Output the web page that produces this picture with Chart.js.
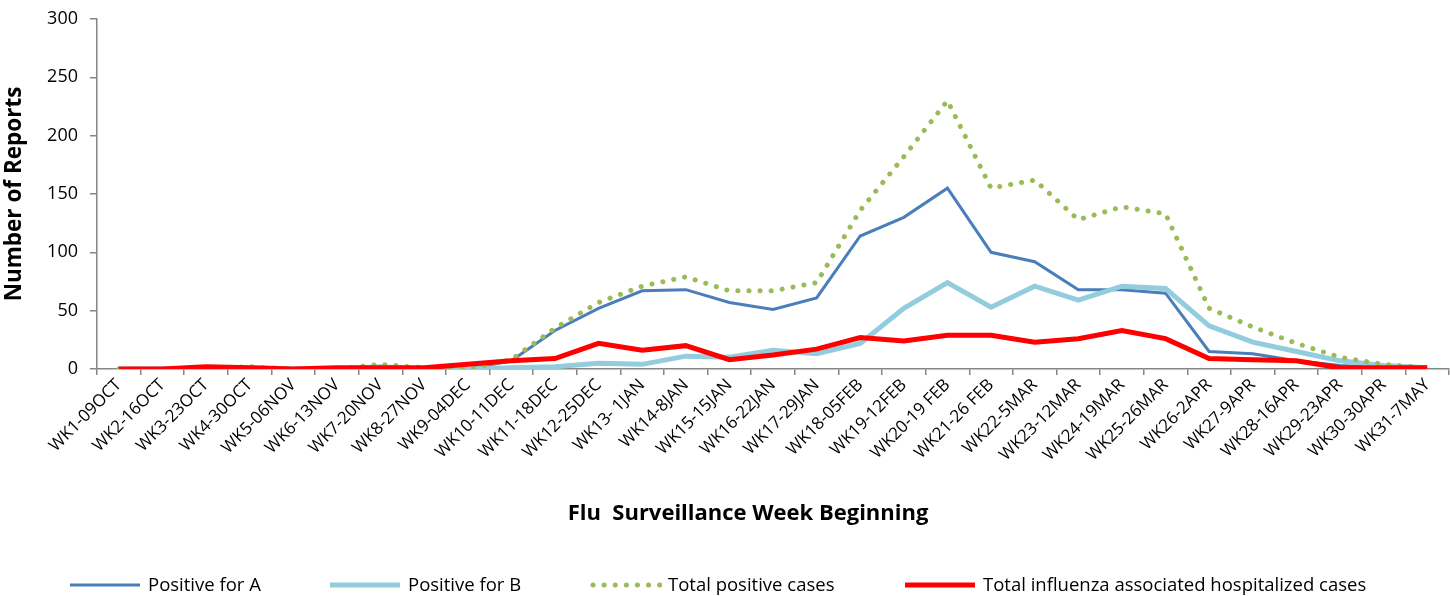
<!DOCTYPE html>
<html>
<head>
<meta charset="utf-8">
<script src="https://cdn.jsdelivr.net/npm/chart.js@4"></script>
<style>
  html,body{margin:0;padding:0;background:#fff;}
  #wrap{position:relative;width:1450px;height:596px;font-family:"Open Sans",sans-serif;}
  #xtitle{position:absolute;left:448px;width:600px;top:496px;text-align:center;font-size:22px;font-weight:bold;line-height:30px;color:#000;}
  #legend{position:absolute;left:0;top:573px;width:1450px;height:24px;font-size:18.5px;color:#000;}
  .item{position:absolute;top:0;height:24px;}
  .item svg{position:absolute;top:0;left:0;}
  .item span{position:absolute;top:-1px;white-space:nowrap;line-height:24px;}
</style>
</head>
<body>
<div id="wrap">
  <canvas id="fluChart" width="1450" height="596"></canvas>
  <div id="xtitle">Flu&nbsp; Surveillance Week Beginning</div>
  <div id="legend"></div>
</div>
<script>
// ---------- DATA ----------
const weeks = ['WK1-09OCT','WK2-16OCT','WK3-23OCT','WK4-30OCT','WK5-06NOV','WK6-13NOV','WK7-20NOV','WK8-27NOV',
  'WK9-04DEC','WK10-11DEC','WK11-18DEC','WK12-25DEC','WK13- 1JAN','WK14-8JAN','WK15-15JAN','WK16-22JAN',
  'WK17-29JAN','WK18-05FEB','WK19-12FEB','WK20-19 FEB','WK21-26 FEB','WK22-5MAR','WK23-12MAR','WK24-19MAR',
  'WK25-26MAR','WK26-2APR','WK27-9APR','WK28-16APR','WK29-23APR','WK30-30APR','WK31-7MAY'];
const positiveA = [0,0,1,1,0,0,2,1,0,7,33,52,67,68,57,51,61,114,130,155,100,92,68,68,65,15,13,7,3,1,0];
const positiveB = [0,0,0,1,0,0,2,0,0,1,2,5,4,11,10,16,13,22,52,74,53,71,59,71,69,37,23,15,7,3,1];
const totalPos = [0,0,1,2,0,0,4,1,0,8,35,57,71,79,67,67,74,136,182,230,155,162,128,139,133,52,36,22,10,4,1];
const hospitalized = [0,0,2,1,0,1,1,1,4,7,9,22,16,20,8,12,17,27,24,29,29,23,26,33,26,9,8,7,1,1,1];
const yTicks = [0,50,100,150,200,250,300];

const FONT = '"Open Sans", sans-serif';
const axisGray = '#868686';

// ---------- CHART ----------
const ctx = document.getElementById('fluChart').getContext('2d');
const fluChart = new Chart(ctx, {
  type: 'line',
  data: {
    labels: weeks,
    datasets: [
      {label:'Positive for A', data:positiveA, borderColor:'#4a7ebb', borderWidth:3, pointRadius:0, order:4, tension:0},
      {label:'Positive for B', data:positiveB, borderColor:'#93cddd', borderWidth:5, pointRadius:0, order:3, tension:0},
      {label:'Total positive cases', data:totalPos, borderColor:'#9bbb59', borderWidth:5, borderDash:[0.1,11],
        borderCapStyle:'round', pointRadius:0, order:2, tension:0},
      {label:'Total influenza associated hospitalized cases', data:hospitalized, borderColor:'#ff0000', borderWidth:5,
        pointRadius:0, order:1, tension:0}
    ]
  },
  options: {
    responsive: false,
    animation: false,
    layout: {padding: {top:19, right:1, left:0, bottom:0}},
    plugins: {legend:{display:false}, tooltip:{enabled:false}},
    scales: {
      x: {
        offset: true,
        grid: {offset:true, drawOnChartArea:false, tickLength:6, color:axisGray, lineWidth:1.5},
        border: {color:axisGray, width:1.5},
        ticks: {autoSkip:false, minRotation:45, maxRotation:45, color:'#000', font:{family:FONT, size:17}, padding:0},
        afterFit: s => { s.height = 227; }
      },
      y: {
        min: 0, max: 300,
        afterBuildTicks: s => { s.ticks = yTicks.map(v => ({value:v})); },
        grid: {drawOnChartArea:false, tickLength:7, color:axisGray, lineWidth:1.5},
        border: {color:axisGray, width:1.5},
        ticks: {color:'#000', font:{family:FONT, size:18}, padding:12},
        title: {display:true, text:'Number of Reports', color:'#000',
          font:{family:FONT, size:22.5, weight:'bold'}, padding:{top:1, bottom:0}},
        afterFit: s => { s.width = 97; s.paddingTop = 0; s.paddingBottom = 0; }
      }
    }
  }
});

// ---------- LEGEND ----------
const legendItems = [
  {x:70, text:'Positive for A', color:'#4a7ebb', width:3},
  {x:330, text:'Positive for B', color:'#93cddd', width:5},
  {x:590, text:'Total positive cases', color:'#9bbb59', width:5, dotted:true},
  {x:905, text:'Total influenza associated hospitalized cases', color:'#ff0000', width:5}
];
const legend = document.getElementById('legend');
legendItems.forEach(it => {
  const d = document.createElement('div');
  d.className = 'item';
  d.style.left = it.x + 'px';
  const dash = it.dotted ? 'stroke-dasharray="0.1 11" stroke-linecap="round"' : '';
  d.innerHTML = `<svg width="72" height="24"><line x1="${it.dotted?3:0}" y1="12" x2="70" y2="12" stroke="${it.color}" stroke-width="${it.width}" ${dash}/></svg>` +
    `<span style="left:78px">${it.text}</span>`;
  legend.appendChild(d);
});
</script>
</body>
</html>
